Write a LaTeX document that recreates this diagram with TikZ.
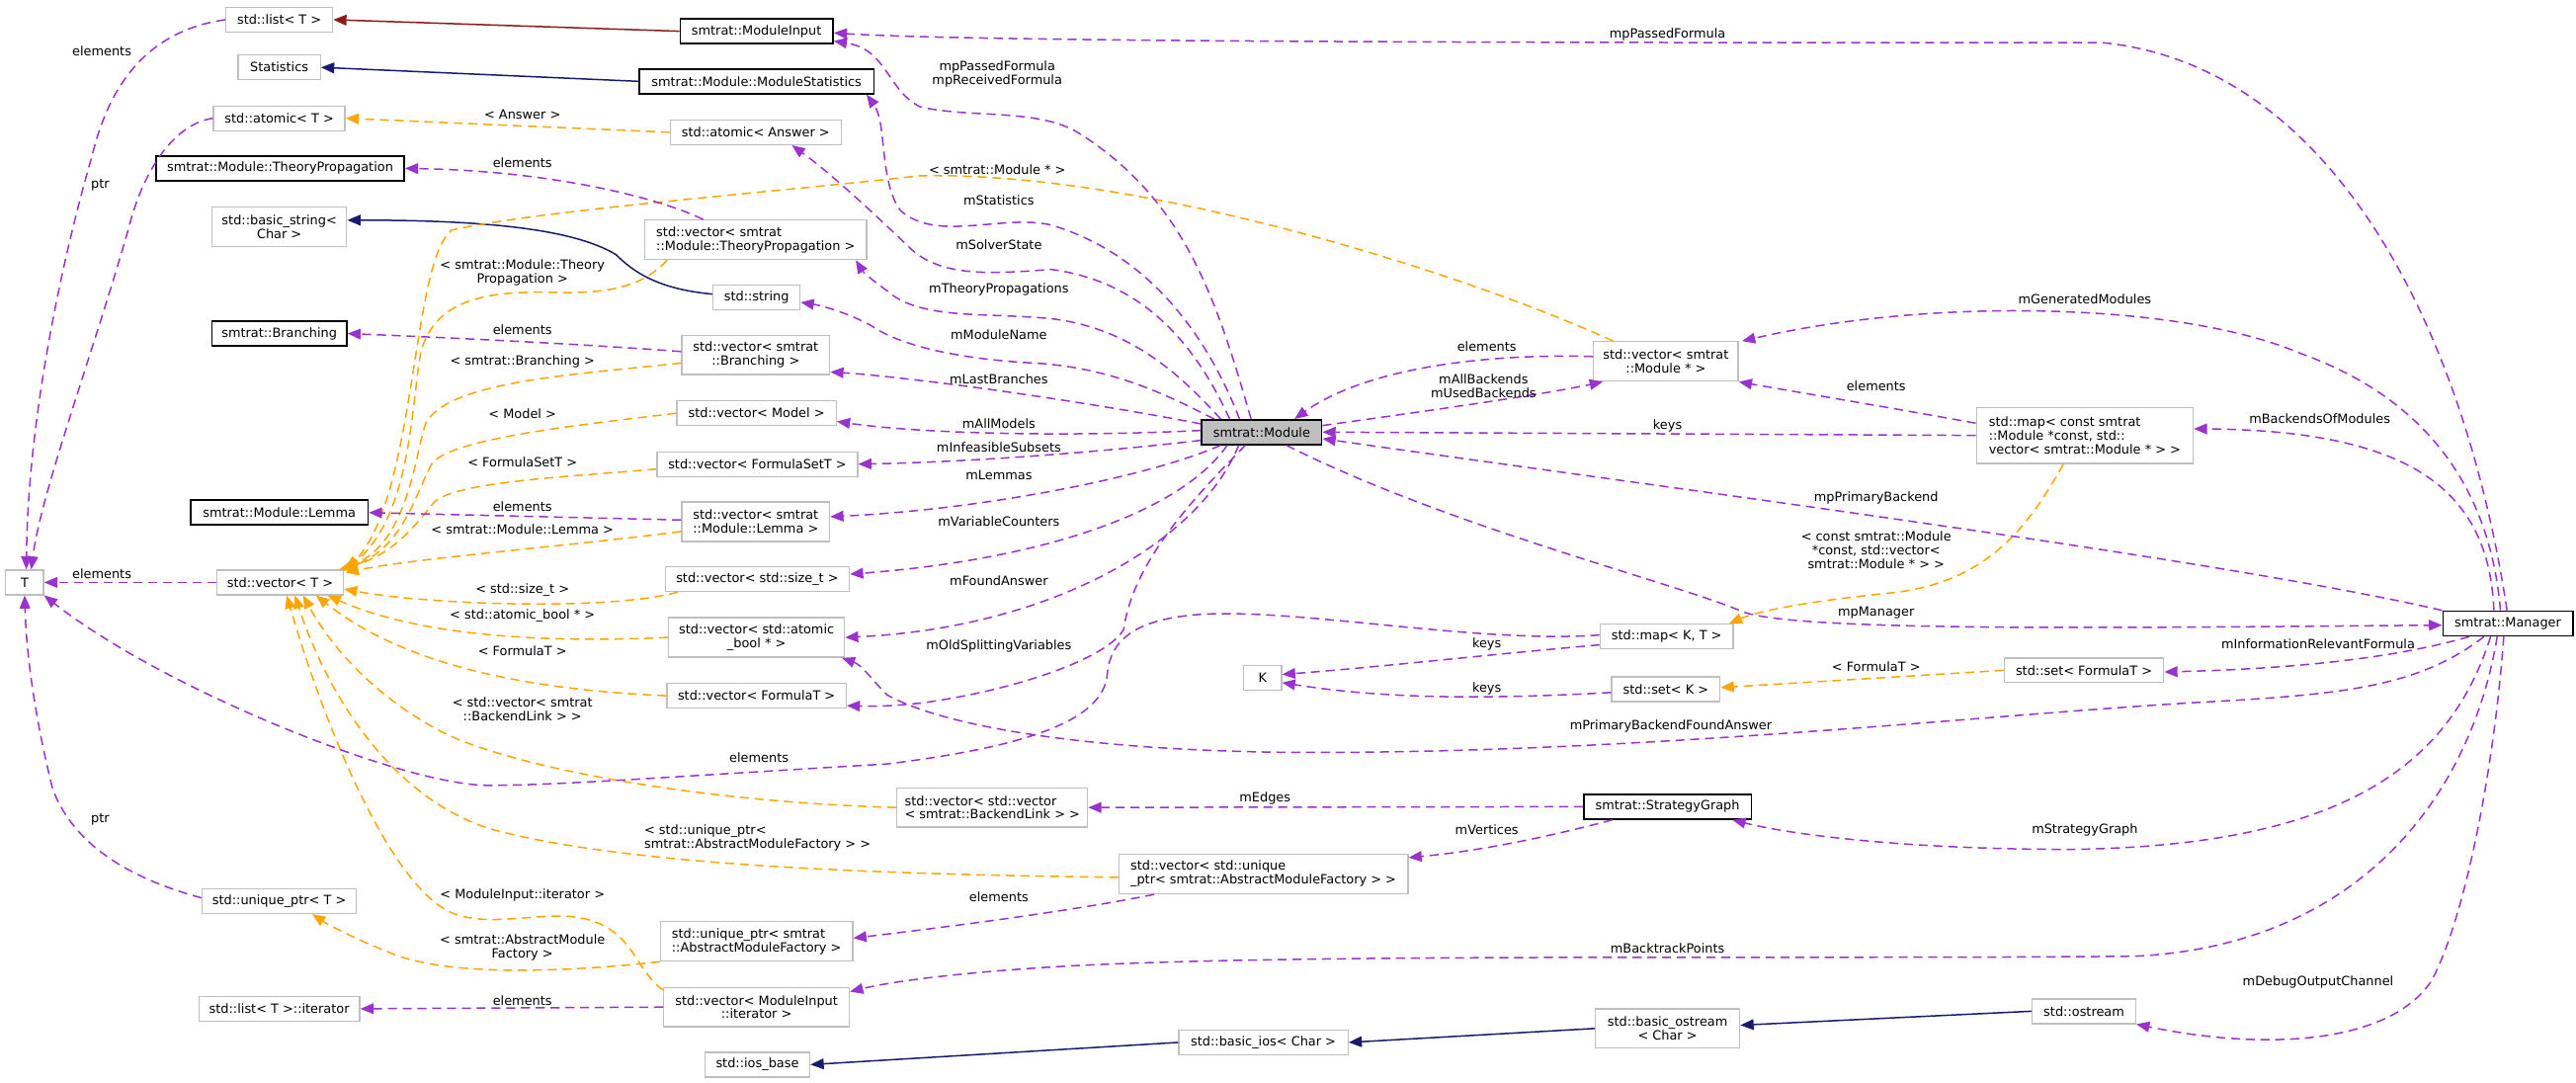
\documentclass[tikz,border=0pt]{standalone}
\usepackage{fontspec}
\setmainfont{DejaVu Sans}
\usetikzlibrary{arrows.meta,calc}
\definecolor{purp}{HTML}{9A32CD}
\definecolor{orng}{HTML}{FFA500}
\definecolor{midblue}{HTML}{191970}
\definecolor{fbrick}{HTML}{8B1A1A}
\definecolor{boxgray}{HTML}{BFBFBF}
\begin{document}
\begin{tikzpicture}[x=1pt,y=-1pt,
  font=\fontsize{7.75}{8.4}\selectfont,
  cls/.style={draw=boxgray,line width=0.8,fill=white,inner sep=0,minimum height=15,align=center},
  doc/.style={cls,draw=black,line width=1.0},
  lbl/.style={inner sep=0,align=center},
  usage/.style={draw=purp,line width=0.9,dash pattern=on 5.5pt off 3.5pt,-{Triangle[length=8,width=6.5]}},
  tmpl/.style={draw=orng,line width=0.9,dash pattern=on 5.5pt off 3.5pt,-{Triangle[length=8,width=6.5]}},
  inhb/.style={draw=midblue,line width=0.9,-{Triangle[length=8,width=6.5]}},
  inhr/.style={draw=fbrick,line width=0.9,-{Triangle[length=8,width=6.5]}}]
\fill[white] (0,0) rectangle (1568,659);
\useasboundingbox (0,0) rectangle (1568,659);

% ---------- nodes ----------
\node[cls,minimum width=65] (listT) at (170,12) {std::list< T >};
\node[doc,minimum width=93] (modinput) at (460.5,19) {smtrat::ModuleInput};
\node[cls,minimum width=50] (statistics) at (170,41) {Statistics};
\node[doc,minimum width=143] (modstats) at (460.5,49.5) {smtrat::Module::ModuleStatistics};
\node[cls,minimum width=80] (atomicT) at (170,72) {std::atomic< T >};
\node[cls,minimum width=104] (atomicAnswer) at (460,80.5) {std::atomic< Answer >};
\node[doc,minimum width=151] (theoryprop) at (170.5,102.5) {smtrat::Module::TheoryPropagation};
\node[cls,minimum width=82,minimum height=24] (basicstring) at (170,138) {std::basic\_string<\\Char >};
\node[cls,minimum width=135,minimum height=24,align=left] (vecTP) at (460,146) {std::vector< smtrat\\::Module::TheoryPropagation >};
\node[cls,minimum width=53] (string) at (460.5,181) {std::string};
\node[doc,minimum width=82] (branching) at (170,203) {smtrat::Branching};
\node[cls,minimum width=90,minimum height=24] (vecBranching) at (460,216) {std::vector< smtrat\\::Branching >};
\node[cls,minimum width=97] (vecModel) at (460.5,251.5) {std::vector< Model >};
\node[cls,minimum width=122] (vecFormulaSetT) at (461,282.5) {std::vector< FormulaSetT >};
\node[doc,minimum width=108] (lemma) at (170,312) {smtrat::Module::Lemma};
\node[cls,minimum width=90,minimum height=24] (vecLemma) at (460,317.5) {std::vector< smtrat\\::Module::Lemma >};
\node[cls,minimum width=23] (T) at (15,354.5) {T};
\node[cls,minimum width=77] (vecT) at (170.5,354.5) {std::vector< T >};
\node[cls,minimum width=112] (vecSizeT) at (461,352.5) {std::vector< std::size\_t >};
\node[cls,minimum width=107,minimum height=24] (vecAtomicBool) at (460.5,388) {std::vector< std::atomic\\\_bool * >};
\node[cls,minimum width=109] (vecFormulaT) at (460.5,423.5) {std::vector< FormulaT >};
\node[cls,minimum width=116,minimum height=24,align=left] (vecvecBL) at (604,491.5) {std::vector< std::vector\\< smtrat::BackendLink > >};
\node[doc,minimum width=102] (strategygraph) at (1015,491) {smtrat::StrategyGraph};
\node[cls,minimum width=176,minimum height=24,align=left] (vecUniq) at (769,532) {std::vector< std::unique\\\_ptr< smtrat::AbstractModuleFactory > >};
\node[cls,minimum width=94] (uniqT) at (170,548.5) {std::unique\_ptr< T >};
\node[cls,minimum width=117,minimum height=24,align=left] (uniqAMF) at (460.5,573) {std::unique\_ptr< smtrat\\::AbstractModuleFactory >};
\node[cls,minimum width=98] (listIter) at (170,614) {std::list< T >::iterator};
\node[cls,minimum width=113,minimum height=24] (vecMIiter) at (460.5,613) {std::vector< ModuleInput\\::iterator >};
\node[cls,minimum width=64] (iosbase) at (461,648) {std::ios\_base};
\node[cls,minimum width=103] (basicios) at (769,634.5) {std::basic\_ios< Char >};
\node[cls,minimum width=88,minimum height=24] (basicostream) at (1015,626) {std::basic\_ostream\\< Char >};
\node[cls,minimum width=63] (ostream) at (1268.5,615.5) {std::ostream};
\node[doc,fill=boxgray,minimum width=73] (module) at (768,263) {smtrat::Module};
\node[cls,minimum width=88,minimum height=24] (vecModule) at (1014,220) {std::vector< smtrat\\::Module * >};
\node[cls,minimum width=132,minimum height=34,align=left] (mapConst) at (1269,265) {std::map< const smtrat\\::Module *const, std::\\vector< smtrat::Module * > >};
\node[cls,minimum width=81] (mapKT) at (1014.5,387.5) {std::map< K, T >};
\node[cls,minimum width=23] (K) at (768.5,412.5) {K};
\node[cls,minimum width=66] (setK) at (1014,419.5) {std::set< K >};
\node[doc,minimum width=79] (manager) at (1526.5,379.5) {smtrat::Manager};
\node[cls,minimum width=97] (setFormulaT) at (1268.5,408) {std::set< FormulaT >};

% ---------- inheritance ----------
\draw[inhr] (modinput.west) -- (listT.east);
\draw[inhb] (modstats.west) -- (statistics.east);
\draw[inhb] ($(string.west)+(0,-2)$) .. controls (400,176) and (385,165) .. (375,155) .. controls (350,140) and (300,134) .. ($(basicstring.east)+(0,-4)$);
\draw[inhb] (basicios.west) -- (iosbase.east);
\draw[inhb] (basicostream.west) -- (basicios.east);
\draw[inhb] (ostream.west) -- ($(basicostream.east)+(0,-2)$);

% ---------- template instantiations ----------
\draw[tmpl] (atomicAnswer.west) -- (atomicT.east);
\draw[tmpl] ($(vecModule.north)+(-32,0)$) .. controls (900,170) and (700,104) .. (560,107) .. controls (460,118) and (330,128) .. (275,140) .. controls (250,160) and (254,300) .. ($(vecT.north east)+(2,0)$);
\draw[tmpl] ($(vecTP.south west)+(14,0)$) .. controls (395,170) and (380,179) .. (340,178) .. controls (300,177) and (265,180) .. (256,215) .. controls (250,250) and (250,315) .. ($(vecT.north east)+(0,1)$);
\draw[tmpl] ($(vecBranching.west)+(0,5)$) .. controls (350,228) and (272,232) .. (259,258) .. controls (252,280) and (248,330) .. ($(vecT.north east)+(-1,0)$);
\draw[tmpl] (vecModel.west) .. controls (360,258) and (276,266) .. (263,282) .. controls (253,300) and (245,335) .. ($(vecT.north east)+(-2,0)$);
\draw[tmpl] ($(vecFormulaSetT.west)+(0,3)$) .. controls (350,290) and (276,293) .. (264,306) .. controls (254,318) and (240,338) .. ($(vecT.north east)+(-3,0)$);
\draw[tmpl] ($(vecLemma.west)+(0,6)$) .. controls (350,332) and (250,340) .. ($(vecT.north east)+(1,2)$);
\draw[tmpl] ($(vecSizeT.south west)+(8,0)$) .. controls (370,372) and (260,368) .. ($(vecT.east)+(0,4)$);
\draw[tmpl] (vecAtomicBool.west) .. controls (320,392) and (250,385) .. ($(vecT.south east)+(-10,0)$);
\draw[tmpl] (vecFormulaT.west) .. controls (330,420) and (250,408) .. ($(vecT.south east)+(-17,0)$);
\draw[tmpl] (vecvecBL.west) .. controls (420,488) and (310,466) .. (270,446) .. controls (235,428) and (205,400) .. ($(vecT.south)+(14,0)$);
\draw[tmpl] ($(vecUniq.west)+(0,2)$) .. controls (520,532) and (380,526) .. (300,505) .. controls (240,487) and (200,425) .. ($(vecT.south)+(9,0)$);
\draw[tmpl] ($(vecMIiter.north west)+(0,2)$) .. controls (386,590) and (386,566) .. (355,559) .. controls (330,554) and (300,565) .. (276,556) .. controls (240,542) and (200,450) .. ($(vecT.south)+(4,0)$);
\draw[tmpl] (uniqAMF.south west) .. controls (360,590) and (280,596) .. (240,581) .. controls (215,571) and (200,563) .. ($(uniqT.south)+(20,0)$);
\draw[tmpl] ($(mapConst.south)+(-13,0)$) .. controls (1235,320) and (1210,355) .. (1150,361) .. controls (1100,366) and (1070,372) .. ($(mapKT.north east)+(-3,0)$);
\draw[tmpl] (setFormulaT.west) -- ($(setK.east)+(0,-1)$);

% ---------- usage (left part) ----------
\draw[usage] ($(vecTP.north)+(-32,0)$) .. controls (405,122) and (340,104) .. (theoryprop.east);
\draw[usage] ($(vecBranching.west)+(0,-2)$) .. controls (350,209) and (260,205) .. (branching.east);
\draw[usage] ($(vecLemma.west)+(0,-1)$) -- (lemma.east);
\draw[usage] (vecT.west) -- (T.east);
\draw[usage] (listT.west) .. controls (95,18) and (68,45) .. (56,95) .. controls (40,150) and (17,250) .. ($(T.north)+(1,0)$);
\draw[usage] (atomicT.west) .. controls (108,75) and (88,100) .. (78,140) .. controls (55,220) and (25,300) .. ($(T.north)+(4,0)$);
\draw[usage] ($(uniqT.west)+(0,-2)$) .. controls (80,535) and (45,515) .. (32,480) .. controls (22,440) and (16,400) .. (T.south);
\draw[usage] (vecMIiter.west) -- (listIter.east);
\draw[usage] ($(mapKT.west)+(0,5)$) .. controls (900,399) and (840,406) .. ($(K.east)+(0,-2)$);
\draw[usage] ($(setK.west)+(0,2)$) .. controls (900,426) and (840,425) .. ($(K.east)+(0,3)$);
\draw[usage] ($(mapKT.west)+(0,-1)$) .. controls (900,392) and (790,370) .. (730,374) .. controls (690,377) and (676,390) .. (674,410) .. controls (672,440) and (620,455) .. (540,465) .. controls (420,472) and (340,478) .. (300,478) .. controls (250,480) and (100,420) .. (T.south east);

% ---------- usage (smtrat::Module) ----------
\draw[usage] ($(module.north west)+(30.5,0)$) .. controls (740,180) and (720,120) .. (655,80) .. controls (630,66) and (590,72) .. (560,65) .. controls (540,55) and (540,30) .. ($(modinput.east)+(0,6)$);
\draw[usage] ($(module.north west)+(23.5,0)$) .. controls (735,205) and (700,155) .. (640,137) .. controls (610,130) and (570,148) .. (548,128) .. controls (535,110) and (540,75) .. ($(modstats.south east)+(-5,0)$);
\draw[usage] ($(module.north west)+(17.5,0)$) .. controls (730,215) and (700,172) .. (640,164) .. controls (610,166) and (575,170) .. (555,152) .. controls (530,128) and (505,105) .. ($(atomicAnswer.south)+(22,0)$);
\draw[usage] ($(module.north west)+(12,0)$) .. controls (720,230) and (690,200) .. (640,194) .. controls (600,190) and (560,195) .. (540,177) .. controls (530,170) and (525,165) .. ($(vecTP.south east)+(-7,0)$);
\draw[usage] ($(module.north west)+(8,0)$) .. controls (715,243) and (680,224) .. (630,221) .. controls (590,219) and (550,212) .. (530,198) .. controls (515,190) and (500,186) .. ($(string.east)+(0,3)$);
\draw[usage] ($(module.west)+(0,-5)$) .. controls (680,248) and (600,236) .. (555,231) .. controls (530,228) and (515,227) .. ($(vecBranching.south east)+(0,-2)$);
\draw[usage] ($(module.west)+(0,-1)$) .. controls (650,266) and (560,264) .. ($(vecModel.east)+(0,5)$);
\draw[usage] ($(module.west)+(0,5)$) .. controls (680,274) and (600,281) .. (vecFormulaSetT.east);
\draw[usage] ($(module.south west)+(12,0)$) .. controls (700,290) and (600,310) .. ($(vecLemma.east)+(0,-3)$);
\draw[usage] ($(module.south west)+(16,0)$) .. controls (720,310) and (640,340) .. ($(vecSizeT.east)+(0,-3)$);
\draw[usage] ($(module.south)+(-14,0)$) .. controls (730,330) and (640,382) .. (vecAtomicBool.east);
\draw[usage] ($(module.south)+(-10,0)$) .. controls (730,300) and (690,340) .. (684,383) .. controls (675,400) and (620,420) .. (560,428) .. controls (540,430) and (530,430) .. ($(vecFormulaT.east)+(0,6)$);
\draw[usage] ($(vecModule.west)+(0,-3)$) .. controls (900,215) and (830,225) .. ($(module.north east)+(-17,0)$);
\draw[usage] ($(module.east)+(0,-4)$) .. controls (870,250) and (940,240) .. ($(vecModule.south west)+(6,0)$);
\draw[usage] (mapConst.west) -- (module.east);
\draw[usage] ($(module.south east)+(-22,0)$) .. controls (880,320) and (1020,355) .. (1060,372) .. controls (1090,385) and (1300,382) .. ($(manager.west)+(0,1)$);

% ---------- usage (right part) ----------
\draw[usage] ($(mapConst.north west)+(0,10)$) .. controls (1150,248) and (1090,238) .. (vecModule.south east);
\draw[usage] (manager.north west) .. controls (1350,340) and (1000,295) .. ($(module.east)+(0,4)$);
\draw[usage] ($(manager.north)+(-8.5,0)$) .. controls (1515,300) and (1470,262) .. ($(mapConst.east)+(0,-4)$);
\draw[usage] ($(manager.north)+(-4.5,0)$) .. controls (1515,290) and (1470,240) .. (1400,215) .. controls (1330,185) and (1180,180) .. ($(vecModule.north east)+(2,0)$);
\draw[usage] ($(manager.north)+(-0.5,0)$) .. controls (1500,200) and (1420,40) .. (1280,26) .. controls (1000,26) and (600,26) .. ($(modinput.east)+(0,1)$);
\draw[usage] ($(manager.south)+(-23.5,0)$) .. controls (1460,400) and (1400,407) .. ($(setFormulaT.east)+(0,1)$);
\draw[usage] ($(manager.south)+(-14.5,0)$) .. controls (1470,420) and (1420,423) .. (1330,428) .. controls (1200,436) and (1000,458) .. (800,458) .. controls (680,458) and (580,445) .. (540,423) .. controls (530,413) and (525,405) .. ($(vecAtomicBool.south east)+(-2,0)$);
\draw[usage] ($(manager.south)+(-10.5,0)$) .. controls (1490,470) and (1420,515) .. (1260,517) .. controls (1160,517) and (1090,508) .. ($(strategygraph.south east)+(-12,0)$);
\draw[usage] ($(manager.south)+(-6.5,0)$) .. controls (1505,480) and (1440,575) .. (1300,582) .. controls (1100,584) and (800,580) .. (650,588) .. controls (580,592) and (540,598) .. ($(vecMIiter.north east)+(0,3)$);
\draw[usage] ($(manager.south)+(-2.5,0)$) .. controls (1518,470) and (1500,560) .. (1480,597) .. controls (1455,635) and (1380,640) .. (ostream.south east);
\draw[usage] (strategygraph.west) -- (vecvecBL.east);
\draw[usage] ($(strategygraph.south west)+(18,0)$) .. controls (940,510) and (900,518) .. ($(vecUniq.east)+(0,-10)$);
\draw[usage] ($(vecUniq.south west)+(22,0)$) .. controls (650,555) and (570,565) .. ($(uniqAMF.east)+(0,-2)$);

% ---------- edge labels ----------
\node[lbl] (l1) at (318,70) {< Answer >};
\node[lbl] (l2) at (318,99) {elements};
\node[lbl] (l3) at (318,166) {< smtrat::Module::Theory\\Propagation >};
\node[lbl] (l4) at (318,201) {elements};
\node[lbl] (l5) at (318,220) {< smtrat::Branching >};
\node[lbl] (l6) at (318,252) {< Model >};
\node[lbl] (l7) at (318,281.5) {< FormulaSetT >};
\node[lbl] (l8) at (318,308.6) {elements};
\node[lbl] (l9) at (318,322) {< smtrat::Module::Lemma >};
\node[lbl] (l10) at (62,349) {elements};
\node[lbl] (l11) at (62,31) {elements};
\node[lbl] (l12) at (61,112.5) {ptr};
\node[lbl] (l13) at (61,498.5) {ptr};
\node[lbl] (l14) at (318,359) {< std::size\_t >};
\node[lbl] (l15) at (318,375) {< std::atomic\_bool * >};
\node[lbl] (l16) at (318,396) {< FormulaT >};
\node[lbl] (l17) at (318,431.5) {< std::vector< smtrat\\::BackendLink > >};
\node[lbl,align=left,anchor=west] (l18) at (392,510) {< std::unique\_ptr<\\smtrat::AbstractModuleFactory > >};
\node[lbl] (l19) at (318,545) {< ModuleInput::iterator >};
\node[lbl] (l20) at (318,577) {< smtrat::AbstractModule\\Factory >};
\node[lbl] (l21) at (318,609) {elements};
\node[lbl] (l22) at (462,461) {elements};
\node[lbl] (l23) at (607,45) {mpPassedFormula\\mpReceivedFormula};
\node[lbl] (l24) at (607,103) {< smtrat::Module * >};
\node[lbl] (l25) at (608,122) {mStatistics};
\node[lbl] (l26) at (608,149) {mSolverState};
\node[lbl] (l27) at (608,176) {mTheoryPropagations};
\node[lbl] (l28) at (608,204) {mModuleName};
\node[lbl] (l29) at (608,230.5) {mLastBranches};
\node[lbl] (l30) at (608,257.6) {mAllModels};
\node[lbl] (l31) at (608,272.3) {mInfeasibleSubsets};
\node[lbl] (l32) at (608,289) {mLemmas};
\node[lbl] (l33) at (608,317.4) {mVariableCounters};
\node[lbl] (l34) at (608,353.6) {mFoundAnswer};
\node[lbl] (l35) at (608,393.5) {mOldSplittingVariables};
\node[lbl] (l36) at (905,211) {elements};
\node[lbl] (l37) at (903,235) {mAllBackends\\mUsedBackends};
\node[lbl] (l38) at (1015,259) {keys};
\node[lbl] (l39) at (1015,21) {mpPassedFormula};
\node[lbl] (l40) at (1269,182) {mGeneratedModules};
\node[lbl] (l41) at (1142,235) {elements};
\node[lbl] (l42) at (1412,255) {mBackendsOfModules};
\node[lbl] (l43) at (1142,303) {mpPrimaryBackend};
\node[lbl] (l44) at (1142,335) {< const smtrat::Module\\*const, std::vector<\\smtrat::Module * > >};
\node[lbl] (l45) at (1142,373) {mpManager};
\node[lbl] (l46) at (905,392) {keys};
\node[lbl] (l47) at (905,419) {keys};
\node[lbl] (l48) at (1142,406) {< FormulaT >};
\node[lbl] (l49) at (1411,392) {mInformationRelevantFormula};
\node[lbl] (l50) at (1017,442) {mPrimaryBackendFoundAnswer};
\node[lbl] (l51) at (770,486) {mEdges};
\node[lbl] (l52) at (905,505) {mVertices};
\node[lbl] (l53) at (1269,505) {mStrategyGraph};
\node[lbl] (l54) at (608,546) {elements};
\node[lbl] (l55) at (1015,577) {mBacktrackPoints};
\node[lbl] (l56) at (1411,598) {mDebugOutputChannel};
\end{tikzpicture}
\end{document}
